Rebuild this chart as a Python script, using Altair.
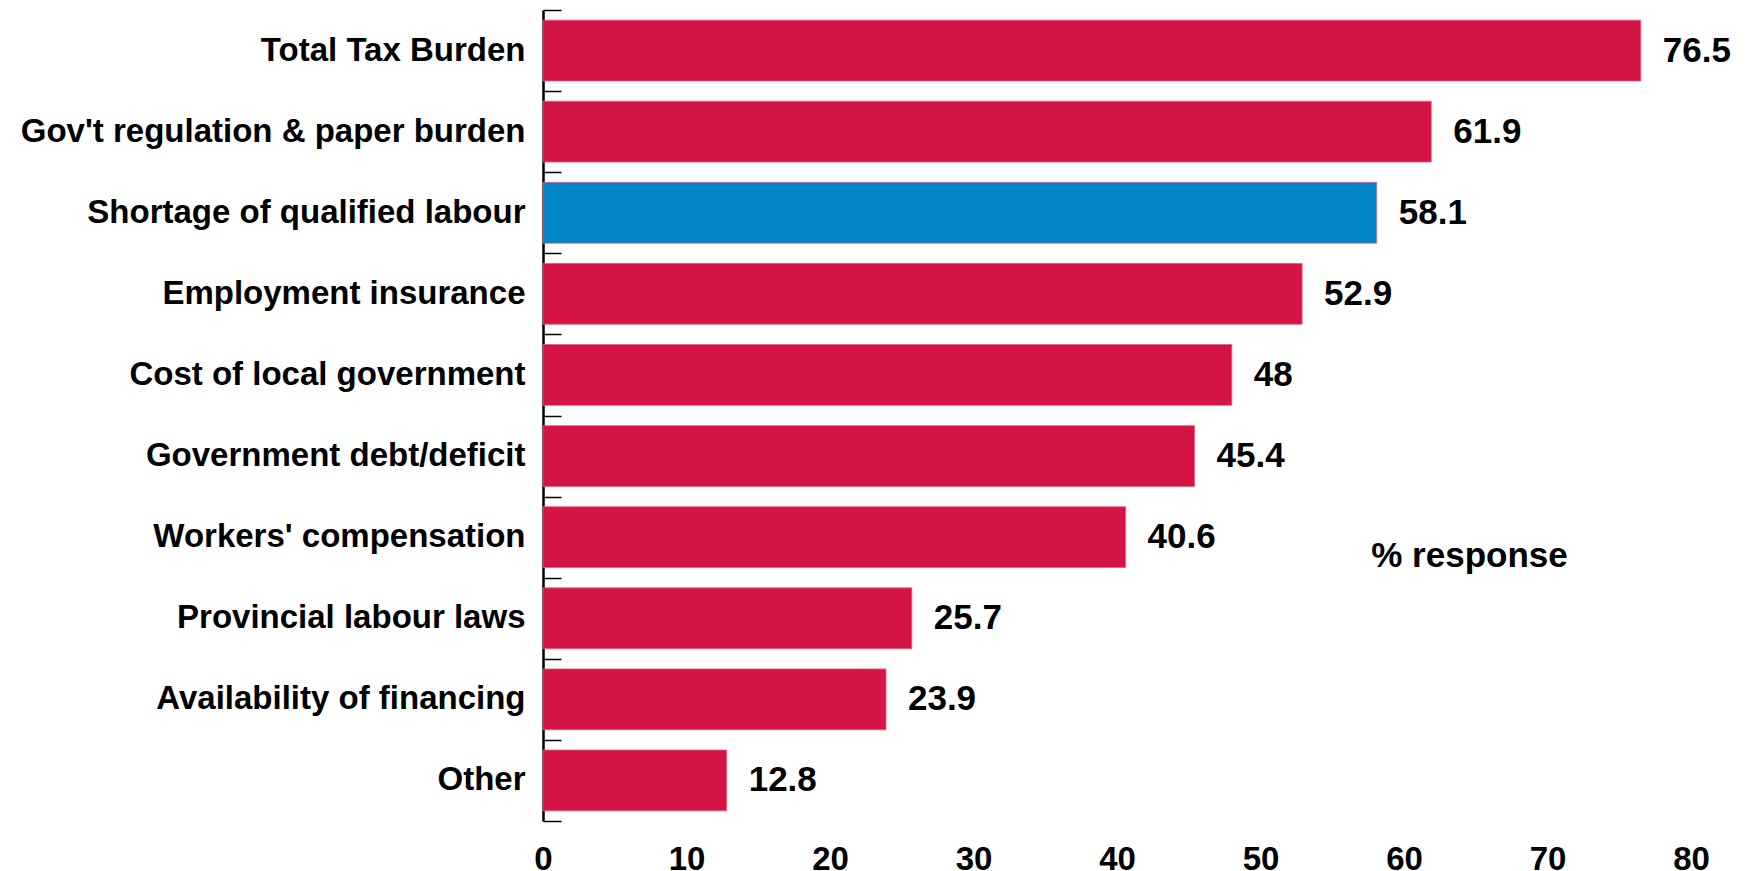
import altair as alt
import pandas as pd

categories = [
    "Total Tax Burden",
    "Gov't regulation & paper burden",
    "Shortage of qualified labour",
    "Employment insurance",
    "Cost of local government",
    "Government debt/deficit",
    "Workers' compensation",
    "Provincial labour laws",
    "Availability of financing",
    "Other",
]
values = [76.5, 61.9, 58.1, 52.9, 48, 45.4, 40.6, 25.7, 23.9, 12.8]
highlight = [False, False, True, False, False, False, False, False, False, False]
x_ticks = [0, 10, 20, 30, 40, 50, 60, 70, 80]

df = pd.DataFrame({"cat": categories, "val": values, "hl": highlight})
df["label"] = [("%g" % v) for v in values]

FONT = "Liberation Sans"
W, H = 1148, 811

yscale = alt.Scale(domain=categories, paddingInner=0, paddingOuter=0)
xscale = alt.Scale(domain=[0, 80], nice=False)

xaxis = alt.Axis(values=x_ticks, domain=False, ticks=False, grid=False,
                 labelFont=FONT, labelFontSize=33, labelFontWeight="bold",
                 labelColor="black", labelPadding=22, labelFlush=False,
                 title="% response", titleFont=FONT, titleFontSize=35,
                 titleFontWeight="bold", titleColor="black",
                 titleX=926, titleY=-266, titleAnchor="middle",
                 titleBaseline="middle", titleAlign="center")

bars = alt.Chart(df).mark_bar(height=alt.RelativeBandSize(0.75), stroke="#E0607F",
                              strokeWidth=0.8).encode(
    y=alt.Y("cat:N", sort=categories, scale=yscale, title=None,
            axis=alt.Axis(orient="left", domain=True, domainColor="black", domainWidth=2.5,
                          ticks=False, grid=False, labelPadding=18, labelFont=FONT,
                          labelFontSize=33, labelFontWeight="bold", labelColor="black",
                          labelLimit=600)),
    x=alt.X("val:Q", scale=xscale, axis=xaxis),
    color=alt.Color("hl:N", scale=alt.Scale(domain=[False, True], range=["#D41443", "#0085C8"]),
                    legend=None),
)

texts = alt.Chart(df).mark_text(align="left", baseline="middle", dx=22, font=FONT,
                                fontSize=35, fontWeight="bold", color="black").encode(
    y=alt.Y("cat:N", sort=categories, scale=yscale, title=None,
            axis=alt.Axis(orient="right", offset=-W, tickBand="extent", labels=False,
                          domain=False, ticks=True, tickSize=18,
                          tickColor="black", tickWidth=1.5, grid=False)),
    x=alt.X("val:Q", scale=xscale, axis=xaxis),
    text="label:N",
)

chart = alt.layer(bars, texts).resolve_scale(y="independent").properties(
    width=W, height=H,
    background="white",
    autosize=alt.AutoSizeParams(type="none"),
    padding={"left": 535, "top": 2, "right": 51, "bottom": 60},
).configure_view(strokeWidth=0, strokeOpacity=0)

chart.save("out.html", embed_options={"renderer": "svg", "actions": False})
